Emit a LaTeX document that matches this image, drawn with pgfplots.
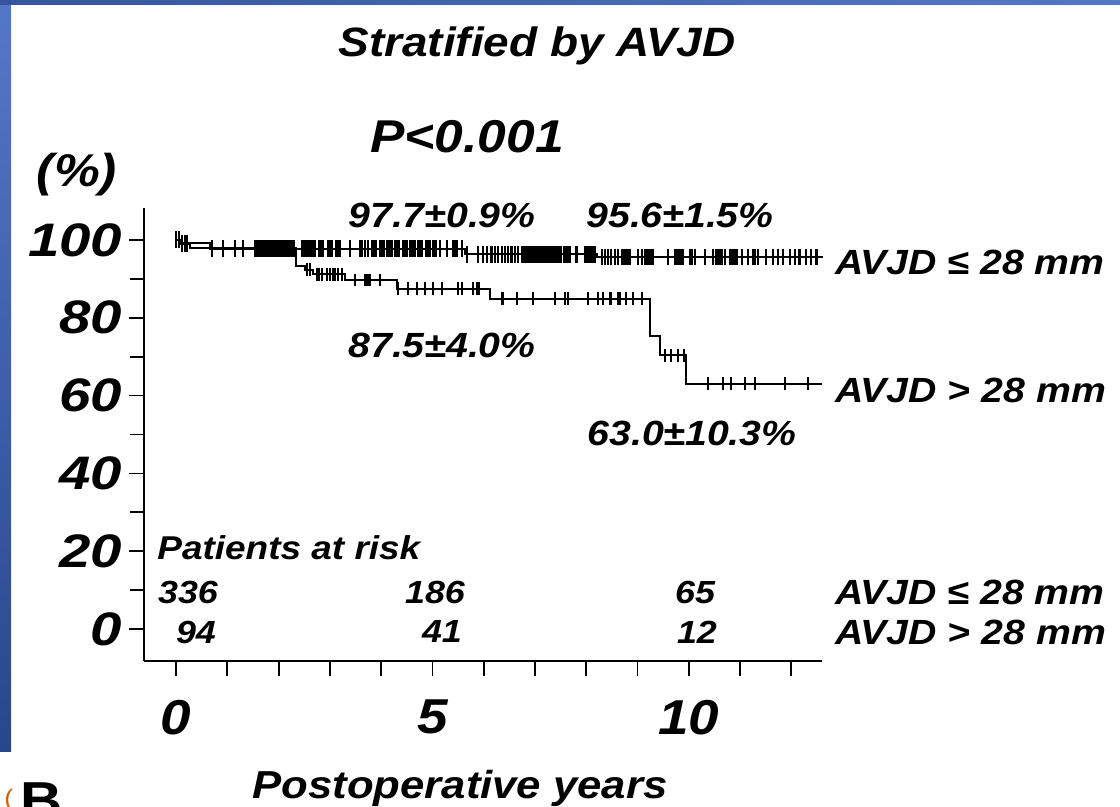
\documentclass[border=0pt]{standalone}
\usepackage{fontspec}
\usepackage{pgfplots}
\pgfplotsset{compat=1.18}
\newfontfamily\hf[FakeStretch=1.12]{Liberation Sans}
\newfontfamily\hfw[FakeStretch=1.2]{Liberation Sans}
\newcommand{\hfs}[1]{\hf\bfseries\itshape\fontsize{#1}{#1}\selectfont}
\newcommand{\hfws}[1]{\hfw\bfseries\itshape\fontsize{#1}{#1}\selectfont}
\definecolor{slideA}{RGB}{84,120,200}
\definecolor{slideB}{RGB}{40,70,140}
\begin{document}
\begin{tikzpicture}
\useasboundingbox (0,0) rectangle (560pt,403.5pt);
% slide frame
\shade[top color=slideA, bottom color=slideB] (0,27.5pt) rectangle (5.5pt,403.5pt);
\shade[left color=slideB!70!slideA, right color=slideA] (0,401pt) rectangle (560pt,403.5pt);
\begin{axis}[
  at={(72.15pt,73pt)}, anchor=south west,
  scale only axis, width=338.9pt, height=226.5pt,
  xmin=-0.62, xmax=12.6, ymin=-8.2, ymax=108.2,
  axis x line*=bottom, axis y line*=left,
  axis line style={line width=1pt, -},
  tick align=outside,
  major tick length=7.5pt, minor tick length=7pt,
  every tick/.style={black, line width=0.9pt},
  xtick={0,1,...,12},
  xticklabels={0,,,,,5,,,,,10,,},
  ytick={0,20,40,60,80,100},
  minor ytick={10,30,50,70,90},
  /pgf/number format/assume math mode=true,
  yticklabel style={font=\hfws{23.5}},
  xticklabel style={font=\hfs{24.5}, yshift=-8.5pt},
  clip=false,
]
% survival curves
\addplot[const plot, black, line width=1pt] coordinates {
 (0,100) (0.10,99.1) (0.66,97.7) (5.63,96.3) (8.20,95.6) (12.62,95.6)};
\addplot[const plot, black, line width=1pt] coordinates {
 (0,100) (0.10,98.9) (0.27,97.9) (2.34,93.4) (2.51,92.3) (2.68,91.2) (3.29,89.7)
 (4.30,87.5) (6.12,84.9) (9.24,75.3) (9.43,70.3) (9.94,63.0) (12.59,63.0)};
% censoring marks, AVJD <= 28 mm
\addplot[only marks, mark=|, mark size=4.2pt, mark options={line width=1.1pt}] coordinates {
 (0,100) (0.05,100) (0.12,99.1) (0.17,99.1) (0.21,99.1)
 (0.70,97.7) (0.92,97.7) (1.15,97.7) (1.31,97.7)
 (1.54,97.7) (1.58,97.7) (1.62,97.7) (1.66,97.7) (1.70,97.7) (1.74,97.7) (1.78,97.7)
 (1.82,97.7) (1.86,97.7) (1.90,97.7) (1.94,97.7) (1.98,97.7) (2.02,97.7) (2.06,97.7)
 (2.10,97.7) (2.14,97.7) (2.18,97.7) (2.22,97.7) (2.26,97.7) (2.30,97.7)
 (2.45,97.7) (2.49,97.7) (2.53,97.7) (2.58,97.7) (2.62,97.7) (2.66,97.7) (2.70,97.7)
 (2.79,97.7) (2.83,97.7) (2.87,97.7) (2.96,97.7) (3.00,97.7) (3.04,97.7)
 (3.12,97.7) (3.16,97.7) (3.20,97.7) (3.39,97.7) (3.59,97.7) (3.62,97.7) (3.68,97.7)
 (3.75,97.7) (3.82,97.7) (3.86,97.7) (3.90,97.7) (3.97,97.7) (4.01,97.7) (4.05,97.7)
 (4.12,97.7) (4.16,97.7) (4.20,97.7) (4.27,97.7) (4.31,97.7) (4.35,97.7)
 (4.42,97.7) (4.46,97.7) (4.50,97.7) (4.57,97.7) (4.61,97.7) (4.65,97.7)
 (4.72,97.7) (4.76,97.7) (4.80,97.7) (4.87,97.7) (4.91,97.7) (4.95,97.7)
 (5.02,97.7) (5.06,97.7) (5.15,97.7) (5.28,97.7) (5.41,97.7) (5.47,97.7) (5.58,97.7)
 (5.67,96.3) (5.89,96.3) (5.99,96.3) (6.06,96.3) (6.15,96.3) (6.22,96.3) (6.28,96.3)
 (6.35,96.3) (6.41,96.3) (6.48,96.3) (6.54,96.3) (6.61,96.3) (6.67,96.3)
 (6.74,96.3) (6.78,96.3) (6.82,96.3) (6.86,96.3) (6.90,96.3) (6.94,96.3) (6.98,96.3)
 (7.02,96.3) (7.06,96.3) (7.10,96.3) (7.14,96.3) (7.18,96.3) (7.22,96.3) (7.26,96.3)
 (7.30,96.3) (7.34,96.3) (7.38,96.3) (7.42,96.3) (7.46,96.3) (7.50,96.3)
 (7.57,96.3) (7.61,96.3) (7.65,96.3) (7.68,96.3) (7.81,96.3)
 (7.97,96.3) (8.01,96.3) (8.05,96.3) (8.09,96.3) (8.13,96.3) (8.17,96.3)
 (8.30,95.6) (8.36,95.6) (8.43,95.6) (8.49,95.6) (8.56,95.6) (8.62,95.6)
 (8.70,95.6) (8.74,95.6) (8.78,95.6) (8.82,95.6) (8.86,95.6) (9.01,95.6) (9.08,95.6)
 (9.14,95.6) (9.18,95.6) (9.22,95.6) (9.26,95.6) (9.30,95.6) (9.60,95.6)
 (9.73,95.6) (9.77,95.6) (9.81,95.6) (9.85,95.6) (9.89,95.6)
 (10.02,95.6) (10.06,95.6) (10.12,95.6) (10.31,95.6) (10.47,95.6) (10.54,95.6)
 (10.60,95.6) (10.64,95.6) (10.70,95.6) (10.80,95.6) (10.84,95.6) (10.88,95.6)
 (10.93,95.6) (11.03,95.6) (11.16,95.6) (11.25,95.6) (11.29,95.6) (11.35,95.6)
 (11.51,95.6) (11.64,95.6) (11.74,95.6) (11.84,95.6) (11.97,95.6) (12.07,95.6)
 (12.16,95.6) (12.29,95.6) (12.39,95.6) (12.49,95.6)};
% censoring marks, AVJD > 28 mm
\addplot[only marks, mark=|, mark size=3.2pt, mark options={line width=1pt}] coordinates {
 (2.55,92.3) (2.61,92.3)
 (2.74,91.2) (2.78,91.2) (2.84,91.2) (2.94,91.2) (3.00,91.2) (3.06,91.2) (3.10,91.2)
 (3.16,91.2) (3.23,91.2)
 (3.49,89.7) (3.68,89.7) (3.72,89.7) (3.75,89.7) (3.78,89.7) (3.98,89.7)
 (4.32,87.5) (4.53,87.5) (4.69,87.5) (4.85,87.5) (5.02,87.5) (5.18,87.5)
 (5.50,87.5) (5.57,87.5) (5.80,87.5) (5.86,87.5) (5.90,87.5)
 (6.35,84.9) (6.38,84.9) (6.64,84.9) (6.96,84.9) (7.39,84.9) (7.58,84.9) (7.65,84.9)
 (8.04,84.9) (8.23,84.9) (8.33,84.9) (8.46,84.9) (8.49,84.9) (8.62,84.9) (8.65,84.9)
 (8.78,84.9) (8.91,84.9) (9.08,84.9)
 (9.53,70.3) (9.66,70.3) (9.79,70.3) (9.90,70.3)
 (10.38,63.0) (10.67,63.0) (10.83,63.0) (11.09,63.0) (11.29,63.0) (11.87,63.0) (12.33,63.0)};
\end{axis}
% texts
\node at (268.5pt,380.5pt) {\hfs{20.5}Stratified by AVJD};
\node at (233.5pt,335pt) {\hfs{23}P<0.001};
\node at (38.5pt,316pt) {\hfs{23}(\%)};
\node at (221pt,296pt) {\hfs{17.5}97.7±0.9\%};
\node at (340pt,296pt) {\hfs{17.5}95.6±1.5\%};
\node[anchor=west, inner sep=0pt] at (417.5pt,272.5pt) {\hfs{17.5}AVJD ≤ 28 mm};
\node at (221pt,231pt) {\hfs{17.5}87.5±4.0\%};
\node[anchor=west, inner sep=0pt] at (417.5pt,208.5pt) {\hfs{17.5}AVJD > 28 mm};
\node at (346pt,187pt) {\hfs{17.5}63.0±10.3\%};
\node[anchor=west, inner sep=0pt] at (78.5pt,129.5pt) {\hfs{16.5}Patients at risk};
\node at (94pt,107.5pt) {\hfs{16}336};
\node at (217.5pt,107.5pt) {\hfs{16}186};
\node at (347.5pt,107.5pt) {\hfs{16}65};
\node[anchor=west, inner sep=0pt] at (417.5pt,107.5pt) {\hfs{17.5}AVJD ≤ 28 mm};
\node at (98pt,87.5pt) {\hfs{16}94};
\node at (221pt,87.5pt) {\hfs{16}41};
\node at (348.5pt,87.5pt) {\hfs{16}12};
\node[anchor=west, inner sep=0pt] at (417.5pt,87.5pt) {\hfs{17.5}AVJD > 28 mm};
\node at (230pt,9.5pt) {\hfs{19.5}Postoperative years};
\node[anchor=base west, inner sep=0pt] at (10pt,-6pt) {\hf\bfseries\fontsize{26}{26}\selectfont B};
\node[anchor=base west, inner sep=0pt, text=orange!80!black] at (2pt,0pt) {\hf\fontsize{12}{12}\selectfont (};
\end{tikzpicture}
\end{document}
